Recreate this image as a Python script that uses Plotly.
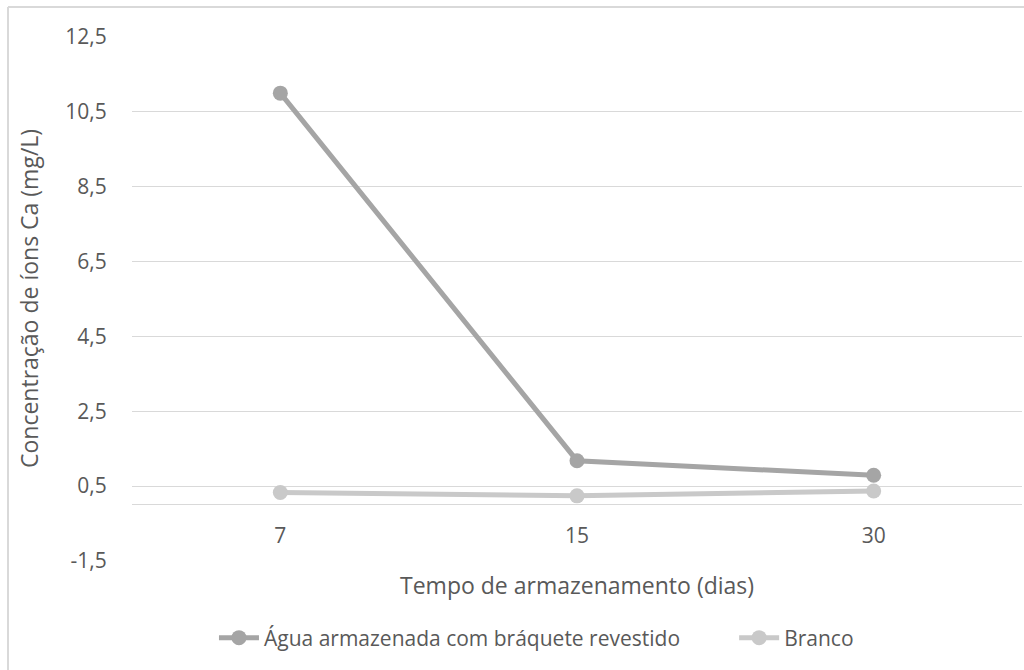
import plotly.graph_objects as go

# Storage time (days) and calcium ion concentration (mg/L)
dias = ["7", "15", "30"]
agua_braquete = [11.0, 1.18, 0.79]
branco = [0.33, 0.24, 0.37]

y_ticks = [-1.5, 0.5, 2.5, 4.5, 6.5, 8.5, 10.5, 12.5]
y_tick_text = [f"{v:.1f}".replace(".", ",") for v in y_ticks]

nome_serie_1 = "Água armazenada com bráquete revestido"
nome_serie_2 = "Branco"
titulo_x = "Tempo de armazenamento (dias)"
titulo_y = "Concentração de íons Ca (mg/L)"

FONT = "Open Sans"
TXT = "#595959"
GRID = "#d9d9d9"
TICK_SIZE = 21
TITLE_SIZE = 23
LEGEND_PAD = "\u00a0" * 9  # extra room between the two legend entries

fig = go.Figure()
fig.add_trace(go.Scatter(
    x=dias, y=agua_braquete, name=nome_serie_1 + LEGEND_PAD, mode="lines+markers",
    line=dict(color="#a5a5a5", width=5),
    marker=dict(color="#a5a5a5", size=15),
))
fig.add_trace(go.Scatter(
    x=dias, y=branco, name=nome_serie_2, mode="lines+markers",
    line=dict(color="#c9c9c9", width=5),
    marker=dict(color="#c9c9c9", size=15),
))

y_min, y_max = y_ticks[0], y_ticks[-1]

fig.update_layout(
    width=1024, height=670,
    margin=dict(l=132, r=2, t=37, b=109),
    paper_bgcolor="white", plot_bgcolor="white",
    font=dict(family=FONT, color=TXT, size=TICK_SIZE),
    showlegend=True,
    legend=dict(
        orientation="h", x=0.0921, xanchor="left",
        y=-0.147, yanchor="middle",
        font=dict(size=TICK_SIZE, color=TXT), itemwidth=40, traceorder="normal",
    ),
    xaxis=dict(
        type="category", range=[-0.5, 2.5],
        anchor="free", position=(0 - y_min) / (y_max - y_min),
        showline=False, showgrid=False, zeroline=False,
        ticks="outside", ticklen=12, tickcolor="rgba(0,0,0,0)",
        tickfont=dict(size=TICK_SIZE, color=TXT),
    ),
    yaxis=dict(
        range=[y_min, y_max], tickvals=y_ticks, ticktext=y_tick_text,
        showgrid=True, gridcolor=GRID, gridwidth=1,
        zeroline=True, zerolinecolor=GRID, zerolinewidth=1,
        showline=False,
        ticks="outside", ticklen=20, tickcolor="rgba(0,0,0,0)",
        tickfont=dict(size=TICK_SIZE, color=TXT),
    ),
    annotations=[
        dict(text=titulo_x, xref="paper", yref="paper", x=0.5, y=-0.0115,
             xanchor="center", yanchor="top", showarrow=False,
             font=dict(size=TITLE_SIZE, color=TXT)),
        dict(text=titulo_y, xref="paper", yref="paper", x=-0.1157, y=0.5,
             xanchor="center", yanchor="middle", textangle=-90, showarrow=False,
             font=dict(size=TITLE_SIZE, color=TXT)),
    ],
    shapes=[
        dict(type="line", xref="paper", yref="paper",
             x0=-0.1393, x1=1.01, y0=1.0573, y1=1.0573,
             line=dict(color=GRID, width=2)),
        dict(type="line", xref="paper", yref="paper",
             x0=-0.1393, x1=-0.1393, y0=1.0573, y1=-0.25,
             line=dict(color=GRID, width=2)),
    ],
)

fig.write_html("out.html")
